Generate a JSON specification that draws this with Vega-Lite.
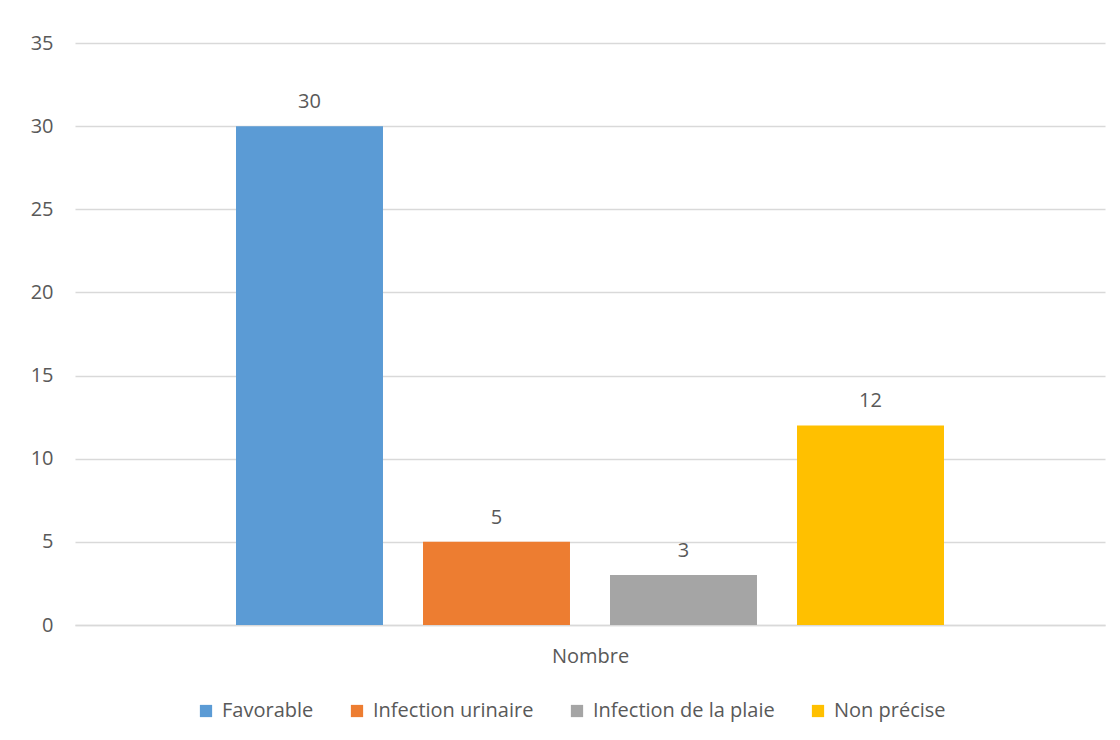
{
  "$schema": "https://vega.github.io/schema/vega-lite/v6.json",
  "width": 1030,
  "height": 582,
  "autosize": {"type": "none"},
  "padding": {"left": 75, "top": 43, "right": 15, "bottom": 115},
  "background": "white",
  "config": {
    "view": {"stroke": null},
    "font": "Open Sans",
    "axis": {"labelColor": "#595959", "titleColor": "#595959", "labelFont": "Open Sans", "titleFont": "Open Sans"},
    "legend": {"labelColor": "#595959", "labelFont": "Open Sans"}
  },
  "data": {
    "values": [
      {"issue": "Favorable", "nombre": 30},
      {"issue": "Infection urinaire", "nombre": 5},
      {"issue": "Infection de la plaie", "nombre": 3},
      {"issue": "Non précise", "nombre": 12}
    ]
  },
  "encoding": {
    "x": {
      "field": "issue",
      "type": "nominal",
      "sort": null,
      "scale": {"paddingInner": 0.214, "paddingOuter": 0.861},
      "axis": {
        "title": "Nombre",
        "labels": false,
        "ticks": false,
        "domain": true,
        "domainColor": "#d9d9d9",
        "domainWidth": 1.5,
        "titleFontSize": 20,
        "titleFontWeight": "normal",
        "titlePadding": 21
      }
    },
    "y": {
      "field": "nombre",
      "type": "quantitative",
      "scale": {"domain": [0, 35], "nice": false},
      "axis": {
        "title": null,
        "values": [0, 5, 10, 15, 20, 25, 30, 35],
        "domain": false,
        "ticks": false,
        "labelFontSize": 20,
        "labelPadding": 22,
        "gridColor": "#d9d9d9",
        "gridWidth": 1.5
      }
    }
  },
  "layer": [
    {
      "mark": {"type": "bar"},
      "encoding": {
        "color": {
          "field": "issue",
          "type": "nominal",
          "sort": null,
          "scale": {
            "domain": ["Favorable", "Infection urinaire", "Infection de la plaie", "Non précise"],
            "range": ["#5B9BD5", "#ED7D31", "#A5A5A5", "#FFC000"]
          },
          "legend": {
            "title": null,
            "orient": "none",
            "legendX": 121,
            "legendY": 658,
            "direction": "horizontal",
            "symbolType": "square",
            "symbolSize": 150,
            "symbolStrokeWidth": 0,
            "labelFontSize": 20,
            "labelLimit": 0,
            "labelOffset": 6,
            "columnPadding": 33
          }
        }
      }
    },
    {
      "mark": {"type": "text", "baseline": "alphabetic", "dy": -18, "fontSize": 20, "color": "#595959"},
      "encoding": {"text": {"field": "nombre", "type": "quantitative"}}
    }
  ]
}
